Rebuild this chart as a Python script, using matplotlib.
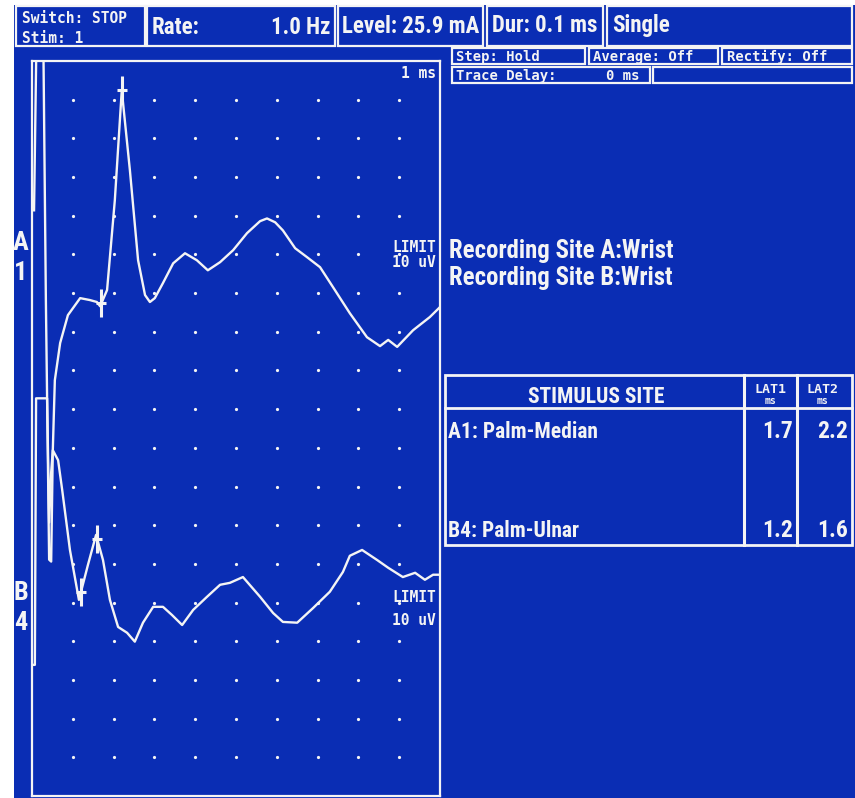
import numpy as np
import matplotlib
matplotlib.use("Agg")
import matplotlib.pyplot as plt
from matplotlib.patches import Rectangle

# ---------------- data ----------------
# Trace A (Palm-Median), time in ms, amplitude in uV relative to baseline
time_a = [0.05, 0.12, 0.27, 0.34, 0.42, 0.47, 0.51, 0.56, 0.69, 0.88, 1.18, 1.42, 1.59, 1.67,
          1.84, 2.03, 2.20, 2.40, 2.60, 2.77, 2.89, 3.01, 3.21, 3.46, 3.75, 4.04, 4.31, 4.61,
          4.93, 5.27, 5.59, 5.76, 5.96, 6.15, 6.45, 6.74, 7.06, 7.38, 7.79, 8.21, 8.53, 8.73,
          8.95, 9.34, 9.75, 10.02]
uv_a = [22.7, 75.0, 75.0, -0.5, -67.6, -68.1, -39.2, -21.2, -11.6, -4.4, 0.0, -0.5, -1.0, -2.1,
        2.1, 25.3, 53.7, 33.0, 9.8, 0.8, -1.0, 0.0, 3.9, 9.0, 11.6, 9.8, 7.2, 9.3,
        12.4, 16.8, 19.9, 20.6, 19.6, 17.5, 12.9, 10.6, 8.0, 2.8, -3.9, -10.1, -12.4, -10.8,
        -12.6, -8.3, -4.9, -2.1]

# Trace B (Palm-Ulnar)
time_b = [0.02, 0.07, 0.10, 0.37, 0.42, 0.47, 0.51, 0.64, 0.74, 0.93, 1.15, 1.37, 1.57, 1.74,
          1.91, 2.11, 2.33, 2.52, 2.72, 2.97, 3.21, 3.43, 3.68, 3.95, 4.29, 4.61, 4.85, 5.17,
          5.59, 5.91, 6.15, 6.50, 6.89, 7.30, 7.62, 7.79, 8.09, 8.46, 8.73, 9.09, 9.39, 9.63,
          9.83, 10.02]
uv_b = [-16.8, -16.8, 52.1, 52.1, 20.0, 33.0, 38.7, 36.1, 28.4, 12.9, 0.0, 9.0, 16.8, 10.3,
        0.0, -7.0, -8.5, -10.8, -5.9, -1.8, -1.8, -3.9, -6.5, -2.6, 0.8, 3.9, 4.4, 5.9,
        0.8, -3.4, -5.7, -5.9, -2.1, 2.1, 7.2, 11.4, 12.9, 10.3, 8.3, 5.9, 7.0, 5.2,
        6.5, 6.5]

stim_sites = ["A1: Palm-Median", "B4: Palm-Ulnar"]
lat1 = [1.7, 1.2]
lat2 = [2.2, 1.6]
recording_sites = ["Recording Site A:Wrist", "Recording Site B:Wrist"]
trace_labels = [("A", "1"), ("B", "4")]

rate_text = "1.0 Hz"
level_text = "Level: 25.9 mA"
dur_text = "Dur: 0.1 ms"
mode_text = "Single"
switch_text = "Switch: STOP"
stim_text = "Stim: 1"
step_text = "Step: Hold"
average_text = "Average: Off"
rectify_text = "Rectify: Off"
delay_label = "Trace Delay:"
delay_value = "0 ms"
timebase_text = "1 ms"
limit_text = ("LIMIT", "10 uV")

# ---------------- style ----------------
BLUE = "#0A2DB4"
WHITE = "#F4F4F4"
BIG = ["Liberation Sans Narrow", "Roboto Condensed", "Roboto", "DejaVu Sans"]
MONO = ["DejaVu Sans Mono"]

W, H = 855, 798
fig = plt.figure(figsize=(W / 100, H / 100), dpi=100)
fig.patch.set_facecolor("white")

bg = fig.add_axes([0, 0, 1, 1])
bg.set_xlim(0, W)
bg.set_ylim(H, 0)
bg.axis("off")
bg.add_patch(Rectangle((14, 5), W - 14, H - 5, facecolor=BLUE, edgecolor="none", zorder=0))

def box(x0, y0, x1, y1, lw=1.6):
    bg.add_patch(Rectangle((x0, y0), x1 - x0, y1 - y0, facecolor="none",
                           edgecolor=WHITE, lw=lw, zorder=2))

def big(x, y, s, size=16.5, ha="left"):
    bg.text(x, y, s, color=WHITE, fontsize=size, fontweight="bold", family=BIG,
            fontstretch="condensed", ha=ha, va="baseline", zorder=3)

def small(x, y, s, size=10.5, ha="left"):
    bg.text(x, y, s, color=WHITE, fontsize=size, fontweight="bold", family=MONO,
            ha=ha, va="baseline", zorder=3)

# header boxes
for b in [(16, 6, 145, 46), (147, 6, 335, 46), (338, 6, 483, 46), (487, 6, 603, 46),
          (607, 6, 852, 46), (452, 48, 585, 64), (589, 48, 718, 64), (722, 48, 852, 64),
          (452, 67, 650, 83), (653, 67, 852, 83)]:
    box(*b)

small(22, 23, switch_text)
small(22, 43, stim_text)
big(152, 34, "Rate:")
big(330, 34, rate_text, ha="right")
big(342, 33, level_text)
big(492, 32, dur_text)
big(612, 32, mode_text)
small(456, 61, step_text, size=10)
small(593, 61, average_text, size=10)
small(727, 61, rectify_text, size=10)
small(456, 80, delay_label, size=10)
small(606, 80, delay_value, size=10)

# ---------------- trace panel ----------------
x0, x1, y0, y1 = 32, 440, 61, 796
ax = fig.add_axes([x0 / W, (H - y1) / H, (x1 - x0) / W, (y1 - y0) / H])
ax.set_facecolor("none")
ax.set_xlim(0, 10)
ax.set_ylim(-190, 0)
ax.set_xticks([])
ax.set_yticks([])
for sp in ax.spines.values():
    sp.set_color(WHITE)
    sp.set_linewidth(1.6)

gx, gy = np.meshgrid(np.arange(1, 10), np.arange(-10, -181, -10))
ax.plot(gx.ravel(), gy.ravel(), "o", color=WHITE, ms=2.3, mew=0, zorder=2)

A_OFF, B_OFF = -61.3, -139.3
for t, v, off, l1, l2 in [(time_a, uv_a, A_OFF, lat1[0], lat2[0]),
                           (time_b, uv_b, B_OFF, lat1[1], lat2[1])]:
    yy = np.array(v) + off
    ax.plot(t, yy, color=WHITE, lw=1.7, zorder=3, solid_joinstyle="round")
    for lat in (l1, l2):
        ym = np.interp(lat, t, yy)
        ax.plot([lat], [ym], marker="|", ms=20, mew=2.2, color=WHITE, zorder=4)
        ax.plot([lat], [ym], marker="_", ms=7, mew=2.2, color=WHITE, zorder=4)

small(436, 78, timebase_text, ha="right")
for (yl1, yl2) in [(252, 267), (602, 625)]:
    small(436, yl1, limit_text[0], ha="right")
    small(436, yl2, limit_text[1], ha="right")

for (c1, c2), (b1, b2) in zip(trace_labels, [(250, 280), (600, 630)]):
    big(21, b1, c1, size=19, ha="center")
    big(21, b2, c2, size=19, ha="center")

# ---------------- right side text ----------------
for s, yb in zip(recording_sites, [258, 285]):
    big(449, yb, s, size=17.8)

# table
box(445, 375, 852, 545, lw=2)
bg.plot([445, 852], [408, 408], color=WHITE, lw=2, zorder=2)
bg.plot([744, 744], [375, 545], color=WHITE, lw=2.2, zorder=2)
bg.plot([797, 797], [375, 545], color=WHITE, lw=2.2, zorder=2)
big(596, 403, "STIMULUS SITE", size=15.5, ha="center")
for cx, s in [(770, "LAT1"), (822, "LAT2")]:
    small(cx, 393, s, size=9.5, ha="center")
    small(cx, 404, "ms", size=7, ha="center")
for s, a, b, yb in zip(stim_sites, lat1, lat2, [438, 537]):
    big(448, yb, s, size=15.5)
    big(793, yb, f"{a:.1f}", size=17, ha="right")
    big(848, yb, f"{b:.1f}", size=17, ha="right")

fig.savefig("out.png", dpi=100, facecolor=fig.get_facecolor())
